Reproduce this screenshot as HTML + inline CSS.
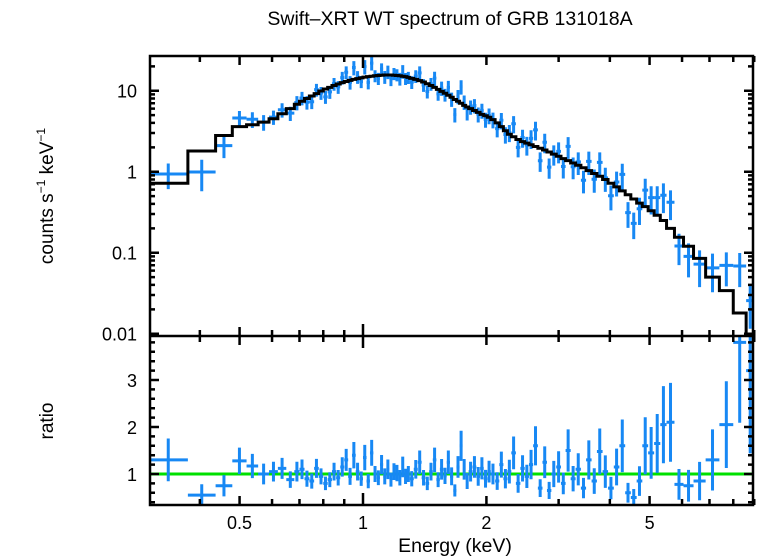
<!DOCTYPE html>
<html><head><meta charset="utf-8"><style>
body{margin:0;background:#fff;}
svg{display:block;font-family:"Liberation Sans",sans-serif;}
</style></head><body>
<svg id="chart" width="758" height="556" viewBox="0 0 758 556" xmlns="http://www.w3.org/2000/svg">
<text x="450" y="25" font-size="19.5" text-anchor="middle">Swift–XRT WT spectrum of GRB 131018A</text>
<text transform="translate(53,196) rotate(-90)" font-size="19" text-anchor="middle">counts s<tspan font-size="12" dy="-8">−1</tspan><tspan dy="8"> keV</tspan><tspan font-size="12" dy="-8">−1</tspan></text>
<text transform="translate(53,421) rotate(-90)" font-size="19" text-anchor="middle">ratio</text>
<text x="455" y="552" font-size="19.5" text-anchor="middle">Energy (keV)</text>
<g id="marks"></g>
</svg>
<script>
const edges=[0.30,0.374,0.437,0.48,0.52,0.555,0.59,0.62,0.65,0.68,
0.70,0.72,0.74,0.76,0.78,0.80,0.82,0.84,0.86,0.88,
0.90,0.92,0.94,0.96,0.98,1.00,1.02,1.04,1.06,1.08,
1.10,1.12,1.14,1.16,1.18,1.20,1.22,1.24,1.26,1.28,
1.30,1.33,1.36,1.39,1.42,1.45,1.48,1.51,1.54,1.57,
1.60,1.63,1.66,1.69,1.72,1.75,1.78,1.81,1.85,1.89,
1.93,1.97,2.01,2.05,2.10,2.15,2.20,2.25,2.30,2.36,
2.42,2.48,2.54,2.60,2.67,2.74,2.81,2.88,2.96,3.04,
3.12,3.21,3.30,3.40,3.50,3.61,3.72,3.84,3.96,4.09,
4.22,4.36,4.50,4.65,4.80,4.96,5.13,5.31,5.50,5.75,
6.05,6.40,6.85,7.40,8.00,8.60,9.0];
const model=[0.72,1.8,2.8,3.6,3.8,4.1,4.5,5.2,6.0,6.8,
7.4,8.0,8.6,9.2,9.9,10.5,11.0,11.6,12.1,12.6,
13.0,13.4,13.8,14.1,14.4,14.7,14.9,15.1,15.3,15.4,
15.5,15.6,15.6,15.6,15.5,15.4,15.3,15.1,14.9,14.6,
14.2,13.8,13.3,12.8,12.2,11.6,11.0,10.4,9.8,9.3,
8.8,8.3,7.8,7.4,7.0,6.6,6.3,6.0,5.7,5.4,
5.1,4.9,4.7,4.4,4.0,3.6,3.2,2.9,2.7,2.5,
2.35,2.25,2.15,2.05,1.95,1.85,1.75,1.65,1.55,1.45,
1.37,1.28,1.20,1.12,1.03,0.95,0.88,0.80,0.72,0.65,
0.58,0.52,0.46,0.41,0.37,0.33,0.29,0.25,0.20,0.155,
0.12,0.085,0.05,0.034,0.018,0.008];
const ratio=[1.3,0.55,0.75,1.28,1.17,1.0,1.05,1.12,0.88,1.05,
1.1,0.9,0.85,1.12,0.95,0.8,0.88,1.05,0.92,1.15,
1.3,0.95,1.4,1.05,0.9,1.35,0.85,1.45,1.0,0.92,
1.2,0.95,1.1,0.88,1.05,1.02,0.92,1.15,0.95,1.0,
0.9,1.1,1.25,0.92,0.8,1.05,1.3,0.88,1.1,0.96,
1.25,0.95,0.65,1.15,1.6,1.1,0.85,1.05,1.15,0.95,
1.12,0.9,1.05,1.0,0.85,1.2,0.9,1.05,1.45,0.8,
1.12,0.95,1.2,1.6,0.7,1.25,0.65,1.0,1.15,0.8,
1.5,0.9,1.1,0.7,1.3,0.85,1.48,1.05,0.7,1.15,
1.6,0.6,0.5,0.85,1.6,1.45,1.65,2.05,2.1,0.78,
0.75,0.85,1.3,2.05,3.8,3.2];
const relErr=[0.35,0.42,0.3,0.22,0.22,0.22,0.2,0.2,0.2,0.2,
0.19,0.19,0.19,0.18,0.18,0.18,0.18,0.18,0.18,0.18,
0.18,0.19,0.2,0.18,0.17,0.2,0.18,0.19,0.17,0.17,
0.17,0.18,0.19,0.17,0.17,0.17,0.18,0.19,0.17,0.17,
0.18,0.18,0.2,0.18,0.18,0.18,0.2,0.18,0.2,0.18,
0.2,0.2,0.2,0.2,0.2,0.2,0.2,0.2,0.2,0.21,
0.21,0.21,0.22,0.22,0.22,0.23,0.23,0.24,0.24,0.25,
0.25,0.26,0.26,0.26,0.27,0.27,0.28,0.28,0.29,0.29,
0.3,0.3,0.31,0.31,0.32,0.32,0.33,0.33,0.34,0.34,
0.35,0.35,0.36,0.37,0.38,0.38,0.38,0.4,0.4,0.42,
0.45,0.48,0.5,0.45,0.45,0.55];
const xTickLabels=["0.5","1","2","5"];
const xTickValues=[0.5,1,2,5];
const yTopLabels=["0.01","0.1","1","10"];
const yTopValues=[0.01,0.1,1,10];
const yBotValues=[1,2,3];

const L=150,R=753,T=56,M=336,B=505;
const X0=363,PXD=410;
const xs=e=>X0+Math.log10(e)*PXD;
const ysTop=v=>171.7-Math.log10(v)*81;
const ysBot=r=>474-(r-1)*47;
const NS="http://www.w3.org/2000/svg";
const g=document.getElementById('marks');
function mk(tag,at){const el=document.createElementNS(NS,tag);for(const k in at)el.setAttribute(k,at[k]);return el;}
const clipDefs=mk('defs',{});
clipDefs.innerHTML='<clipPath id="cT"><rect x="'+L+'" y="'+T+'" width="'+(R-L)+'" height="'+(M-T)+'"/></clipPath><clipPath id="cB"><rect x="'+L+'" y="'+M+'" width="'+(R-L)+'" height="'+(B-M)+'"/></clipPath>';
g.appendChild(clipDefs);
const gT=mk('g',{'clip-path':'url(#cT)'});


const gB=mk('g',{'clip-path':'url(#cB)'});


g.appendChild(gT);g.appendChild(gB);
const BLUE='#1788f4';
const n=Math.min(edges.length-1,model.length,ratio.length,relErr.length);
const gl=mk('line',{x1:L,x2:R,y1:ysBot(1),y2:ysBot(1),stroke:'#00e000','stroke-width':3});


gB.appendChild(gl);
for(let i=0;i<n;i++){
  const lo=edges[i],hi=edges[i+1],ec=Math.sqrt(lo*hi);
  const c=model[i]*ratio[i],er=relErr[i];
  const p=mk('path',{d:`M${xs(lo)},${ysTop(c)}H${xs(hi)}M${xs(ec)},${ysTop(c*(1+er))}V${ysTop(Math.max(c*(1-er),1e-4))}`,stroke:BLUE,'stroke-width':3,fill:'none'});
  
  
  gT.appendChild(p);
  const r=ratio[i];
  const q=mk('path',{d:`M${xs(lo)},${ysBot(r)}H${xs(hi)}M${xs(ec)},${ysBot(r*(1+er))}V${ysBot(r*(1-er))}`,stroke:BLUE,'stroke-width':3,fill:'none'});
  
  
  gB.appendChild(q);
}
let d='';
for(let i=0;i<n;i++){
  const y=ysTop(model[i]);
  d+=(i===0?`M${xs(edges[0])},${y}`:`V${y}`)+`H${xs(edges[i+1])}`;
}
d+=`V${B}`;
const mp=mk('path',{d:d,stroke:'#000','stroke-width':3,fill:'none'});


gT.appendChild(mp);

let ax='';
ax+=`M${L},${T}H${R}V${B}H${L}Z M${L},${M}H${R}`;
const minorX=[0.4,0.6,0.7,0.8,0.9,3,4,6,7,8,9];
for(const v of minorX){const x=xs(v);for(const [y0,dir] of [[T,1],[M,-1],[M,1],[B,-1]])ax+=`M${x},${y0}v${dir*6}`;}
for(const v of xTickValues){const x=xs(v);const len=v===1?12:9;for(const [y0,dir] of [[T,1],[M,-1],[M,1],[B,-1]])ax+=`M${x},${y0}v${dir*len}`;}
for(let dec=-2;dec<=1;dec++){for(let m=1;m<=9;m++){const v=m*Math.pow(10,dec);const y=ysTop(v);if(y<T||y>M)continue;const len=m===1?9:5;ax+=`M${L},${y}h${len}M${R},${y}h${-len}`;}}
for(let k=0;k<=19;k++){const v=0.4+k*0.2;const y=ysBot(v);if(y<M||y>B)continue;const maj=Math.abs(v-Math.round(v))<1e-6;const len=maj?9:5;ax+=`M${L},${y}h${len}M${R},${y}h${-len}`;}
const axp=mk('path',{d:ax,stroke:'#000','stroke-width':2.5,fill:'none'});


g.appendChild(axp);
function txt(s,x,y,anchor,name){const t=mk('text',{x:x,y:y,'font-size':18,'text-anchor':anchor});t.textContent=s;g.appendChild(t);}
xTickValues.forEach((v,i)=>txt(xTickLabels[i],xs(v),529,'middle','x-tick-label'));
yTopValues.forEach((v,i)=>txt(yTopLabels[i],137,ysTop(v)+7,'end','y-tick-label-counts'));
yBotValues.forEach(v=>txt(String(v),137,ysBot(v)+7,'end','y-tick-label-ratio'));
</script>
</body></html>
